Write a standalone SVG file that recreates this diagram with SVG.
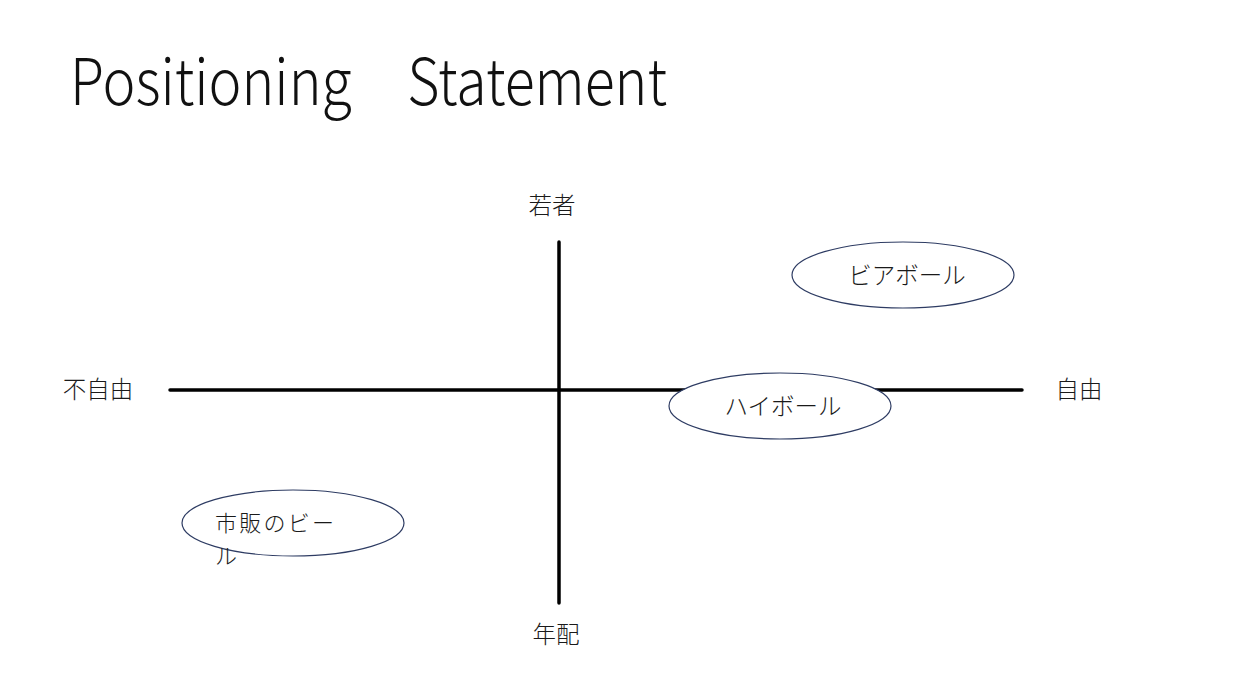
<svg xmlns="http://www.w3.org/2000/svg" width="1246" height="693" viewBox="0 0 1246 693">
  <style>
    .lbl { font-family: "Noto Sans CJK JP", "Noto Sans", sans-serif; font-weight: 300; font-size: 23.5px; fill: #1a1a1a; }
    .wrap { font-size: 22px; }
    .title { font-family: "Noto Sans CJK JP", "Noto Sans", sans-serif; font-weight: 300; font-size: 64px; fill: #111; }
    .axis { stroke: #000; stroke-width: 3.5; stroke-linecap: round; fill: none; }
    .bubble { fill: #fff; stroke: #2e3c63; stroke-width: 1.2; }
  </style>
  <rect width="1246" height="693" fill="#fff"/>
  <text class="title" x="70" y="105" textLength="597" lengthAdjust="spacingAndGlyphs">Positioning　Statement</text>

  <g id="connectors">
    <line class="axis" x1="170" y1="390" x2="1022" y2="390"/>
    <line class="axis" x1="559" y1="242" x2="559" y2="603"/>
  </g>

  <g id="axis-labels">
    <text class="lbl" x="552" y="214" text-anchor="middle">若者</text>
    <text class="lbl" x="556" y="643" text-anchor="middle">年配</text>
    <text class="lbl" x="98" y="398" text-anchor="middle">不自由</text>
    <text class="lbl" x="1079" y="398" text-anchor="middle">自由</text>
  </g>

  <g id="beerball">
    <ellipse class="bubble" cx="903" cy="275" rx="111" ry="33"/>
    <text class="lbl" x="907" y="284" text-anchor="middle">ビアボール</text>
  </g>
  <g id="highball">
    <ellipse class="bubble" cx="780" cy="406" rx="111" ry="33"/>
    <text class="lbl" x="783" y="415" text-anchor="middle">ハイボール</text>
  </g>
  <g id="commercial-beer">
    <ellipse class="bubble" cx="293" cy="523" rx="111" ry="33"/>
    <!-- label wraps onto a second line inside the bubble -->
    <text class="lbl wrap" x="215" y="531" textLength="119">市販のビー</text>
    <text class="lbl wrap" x="215" y="564">ル</text>
  </g>
</svg>
